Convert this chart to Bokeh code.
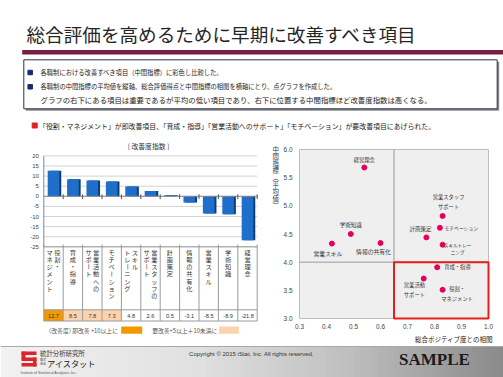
import math
from bokeh.plotting import figure
from bokeh.models import Range1d, ColumnDataSource
from bokeh.core.properties import value, field
from bokeh.embed import file_html
from bokeh.resources import INLINE

JP = value("Noto Sans CJK JP")
LAT = value("Liberation Sans")

# ---------------- data ----------------
page_title = "総合評価を高めるために早期に改善すべき項目"
notes = ["各職制における改善すべき項目（中間指標）に彩色し比較した。",
         "各職制の中間指標の平均値を縦軸、総合評価得点と中間指標の相関を横軸にとり、点グラフを作成した。",
         "グラフの右下にある項目は重要であるが平均の低い項目であり、右下に位置する中間指標ほど改善度指数は高くなる。"]
summary = "「役割・マネジメント」が即改善項目、「育成・指導」「営業活動へのサポート」「モチベーション」が要改善項目にあげられた。"

categories = ["役割・マネジメント", "育成・指導", "営業活動へのサポート", "モチベーション",
              "スキルトレーニング", "営業スタッフのサポート", "計画策定", "情報の共有化",
              "営業スキル", "学術知識", "経営理念"]
# vertical table labels: "\n" separates vertical columns (right column first)
table_labels = ["役割・\nマネジメント", "育成・指導", "営業活動への\nサポート", "モチベーション",
                "スキル\nトレーニング", "営業スタッフの\nサポート", "計画策定", "情報の共有化",
                "営業スキル", "学術知識", "経営理念"]
improvement_index = [12.7, 8.5, 7.8, 7.3, 4.8, 2.6, 0.5, -3.1, -8.5, -8.9, -21.8]
bar_ticks = [-25, -20, -15, -10, -5, 0, 5, 10, 15, 20]
bar_title = "[ 改善度指数 ]"
urgent_threshold = 10
needed_threshold = 5

point_labels = ["役割・\nマネジメント", "育成・指導", "営業活動\nサポート", "モチベーション",
                "スキルトレー\nニング", "営業スタッフ\nサポート", "計画策定", "情報の共有化",
                "営業スキル", "学術知識", "経営理念"]
correlation = [0.83, 0.81, 0.76, 0.82, 0.83, 0.83, 0.77, 0.60, 0.42, 0.49, 0.54]
mean_score = [3.51, 3.91, 3.71, 4.61, 4.31, 4.82, 4.44, 4.34, 4.33, 4.50, 5.68]
x_ticks = [0.3, 0.4, 0.5, 0.6, 0.7, 0.8, 0.9, 1.0]
y_ticks = [3.0, 3.5, 4.0, 4.5, 5.0, 5.5, 6.0]
x_split = 0.65
y_split = 4.0
focus_x = (0.65, 1.0)
focus_y = (3.0, 4.0)
x_axis_label = "総合ポジティブ度との相関"
y_axis_label = "中間指標（平均値）"

# label placement (style)
lab_dx = [14.5, 7, -9.3, 4.6, 15, 6, -6, -7, -4, 0, 0]
lab_dy = [4.5, 0, 11.7, 0, 4, -14.3, -8.4, 8.5, 9.5, -9, -7.5]
lab_align = ["center", "left", "center", "left", "center", "center", "center", "center", "center", "center", "center"]
lab_fs = ["5.3px", "5.3px", "5.3px", "4.8px", "4.6px", "5.3px", "5.5px", "5.8px", "5.8px", "5.5px", "5.3px"]

# ---------------- one page-sized figure (page pixels) ----------------
W, H = 503, 377
p = figure(width=W, height=H, x_range=Range1d(0, W), y_range=Range1d(H, 0),
           output_backend="svg", toolbar_location=None,
           x_axis_location=None, y_axis_location=None, min_border=0)
p.xgrid.visible = False
p.ygrid.visible = False
p.outline_line_color = None
p.background_fill_color = "white"

# chart scales placed on the page:
#  bar chart: category i centred at 43.3 + 19.4*(i+0.5) px ; value 0 at y=195.8 px, 2.02 px per unit
#  scatter:   x 0.3..1.0 -> 299..488 px ; y 3..6 -> 318..149 px
CAT0, CATW = 43.3, 19.4
VAL0, VALS = 195.8, 2.02
SX0, SXS = 299.0, 270.0
SY0, SYS = 318.0, 169.0 / 3.0
p.extra_x_ranges = {
    "cat": Range1d(-CAT0 / CATW - 0.5, (W - CAT0) / CATW - 0.5),
    "sx": Range1d(x_ticks[0] - SX0 / SXS, x_ticks[0] + (W - SX0) / SXS),
}
p.extra_y_ranges = {
    "val": Range1d((VAL0 - H) / VALS, VAL0 / VALS),
    "sy": Range1d(y_ticks[0] - (H - SY0) / SYS, y_ticks[0] + SY0 / SYS),
}
C = dict(x_range_name="cat", y_range_name="val")
S = dict(x_range_name="sx", y_range_name="sy")

# ---------------- header ----------------
p.text(x=[26], y=[33], text=[page_title], text_font=JP, text_font_size="18.6px",
       text_color="#262626", text_align="left", text_baseline="middle")
p.quad(left=[21.7], right=[503], top=[49.5], bottom=[54], fill_color="#7a1f3d", line_color=None)
p.quad(left=[25.3], right=[498.7], top=[61.3], bottom=[110.3], fill_color="#8a8a8a", line_color=None)
p.quad(left=[23.3], right=[496.7], top=[59.3], bottom=[108.3], fill_color="white",
       line_color="#2e2e4e", line_width=1)
p.scatter(x=[29.7, 29.7], y=[72, 86.3], marker="square", size=4.5, color="#1b2a6b")
p.text(x=[40, 40], y=[72, 86.3], text=notes[:2], text_font=JP, text_font_size="6.3px",
       text_color="#222", text_align="left", text_baseline="middle")
p.text(x=[40], y=[99], text=notes[2:], text_font=JP, text_font_size="7.4px",
       text_color="#222", text_align="left", text_baseline="middle")
p.scatter(x=[34.2], y=[125], marker="square", size=5, color="#e0201e")
p.text(x=[38.5], y=[125], text=[summary], text_font=JP, text_font_size="6.9px",
       text_color="#222", text_align="left", text_baseline="middle")

# ---------------- bar chart + table ----------------
n = len(categories)
idx = list(range(n))
nt = len(bar_ticks)
p.segment(x0=[-0.5] * nt, x1=[n - 0.5] * nt, y0=bar_ticks, y1=bar_ticks,
          line_color="#d2d2d2", line_width=1, **C)
p.text(x=[-0.5] * nt, y=bar_ticks, text=[str(t) for t in bar_ticks], x_offset=-5, **C,
       text_font=LAT, text_font_size="6px", text_color="#444", text_align="right",
       text_baseline="middle")

bar_src = ColumnDataSource(dict(x=idx, xs=[i + 0.1 for i in idx], v=improvement_index))
p.vbar(x="xs", top="v", bottom=0, width=0.6, source=bar_src, fill_color="#0e3c75", line_color=None, **C)
p.vbar(x="x", top="v", bottom=0, width=0.6, source=bar_src, fill_color="#1f6fca", line_color=None, **C)

bounds = [i - 0.5 for i in range(n + 1)]
p.segment(x0=[-0.5], x1=[n - 0.5], y0=[0], y1=[0], line_color="#8a8a8a", line_width=1, **C)
p.segment(x0=bounds[1:], x1=bounds[1:], y0=[1.0] * n, y1=[-1.4] * n, line_color="#555", line_width=1, **C)
p.segment(x0=[-0.5], x1=[-0.5], y0=[max(bar_ticks)], y1=[min(bar_ticks)], line_color="#888", **C)

TT, TM, TB = 246.3, 309.3, 320.5
fills = ["#F39800" if v >= urgent_threshold else ("#FCD3AC" if v >= needed_threshold else "white")
         for v in improvement_index]
p.quad(left=[i - 0.5 for i in idx], right=[i + 0.5 for i in idx], top=[TM] * n, bottom=[TB] * n,
       fill_color=fills, line_color=None, x_range_name="cat")
p.segment(x0=bounds, x1=bounds, y0=[244] * (n + 1), y1=[TB] * (n + 1), x_range_name="cat",
          line_color="#9a9a9a", line_width=1)
p.segment(x0=[-0.5] * 3, x1=[n - 0.5] * 3, y0=[TT, TM, TB], y1=[TT, TM, TB], x_range_name="cat",
          line_color="#9a9a9a", line_width=1)
p.text(x=idx, y=[315] * n, text=[f"{v:.1f}" for v in improvement_index], x_range_name="cat",
       text_font=LAT, text_font_size="5.6px", text_color="#333", text_align="center",
       text_baseline="middle")

cx, cxo, cy, ct, ca = [], [], [], [], []
for i, lab in enumerate(table_labels):
    cols = lab.split("\n")
    m = len(cols)
    for j, col in enumerate(cols):
        dx = ((m - 1) / 2 - j) * 7.6
        for k, ch in enumerate(col):
            cx.append(i)
            cxo.append(dx)
            cy.append(251.8 + 7.2 * k)
            ct.append(ch)
            ca.append(math.pi / 2 if ch == "ー" else 0.0)
tab_src = ColumnDataSource(dict(x=cx, xo=cxo, y=cy, t=ct, a=ca))
p.text(x="x", y="y", text="t", x_offset="xo", angle="a", source=tab_src, x_range_name="cat",
       text_font=JP, text_font_size="6.2px", text_color="#333", text_align="center",
       text_baseline="middle")

p.text(x=[148], y=[145.7], text=[bar_title], text_font=JP, text_font_size="6.8px",
       text_color="#333", text_align="center", text_baseline="middle")
p.text(x=[45, 71.7, 151.7], y=[329.6] * 3,
       text=["（改善度）", f"即改善 +{urgent_threshold}以上に", f"要改善+{needed_threshold}以上＋{urgent_threshold}未満に"],
       text_font=JP, text_font_size="5.8px", text_color="#555", text_align="left",
       text_baseline="middle")
p.quad(left=[120.7, 218.7], right=[141.7, 238.3], top=[326, 326], bottom=[333.3, 333.3],
       fill_color=["#F39800", "#FCD3AC"], line_color=None)

# ---------------- scatter ----------------
p.quad(left=[x_ticks[0]], right=[x_ticks[-1]], bottom=[y_ticks[0]], top=[y_ticks[-1]],
       fill_color="#efefef", line_color="#bdbdbd", line_width=1, **S)
p.segment(x0=[x_split, x_ticks[0]], x1=[x_split, x_ticks[-1]],
          y0=[y_ticks[0], y_split], y1=[y_ticks[-1], y_split], line_color="#9a9a9a", line_width=1, **S)
p.quad(left=[focus_x[0]], right=[focus_x[1]], bottom=[focus_y[0]], top=[focus_y[1]],
       fill_color=None, line_color="#e3211c", line_width=2, **S)

pt_src = ColumnDataSource(dict(x=correlation, y=mean_score, t=point_labels, xo=lab_dx, yo=lab_dy,
                               al=lab_align, fs=lab_fs))
p.scatter(x="x", y="y", source=pt_src, size=5, color="#e6005c", **S)
p.text(x="x", y="y", text="t", x_offset="xo", y_offset="yo", text_align=field("al"),
       text_font_size=field("fs"), source=pt_src, text_font=JP, text_color="#333",
       text_baseline="middle", text_line_height=1.25, **S)

p.text(x=x_ticks, y=[y_ticks[0]] * len(x_ticks), text=[f"{t:.1f}" for t in x_ticks], y_offset=7.5,
       text_font=LAT, text_font_size="6.4px", text_color="#444", text_align="center",
       text_baseline="middle", **S)
p.text(x=[x_ticks[0]] * len(y_ticks), y=y_ticks, text=[f"{t:.1f}" for t in y_ticks], x_offset=-7,
       text_font=LAT, text_font_size="6.4px", text_color="#444", text_align="right",
       text_baseline="middle", **S)

vert = [{"（": "︵", "）": "︶"}.get(c, c) for c in y_axis_label]
p.text(x=[275.3] * len(vert), y=[149 + 7.0 * k for k in range(len(vert))], text=vert,
       text_font=JP, text_font_size="6.4px", text_color="#333", text_align="center",
       text_baseline="middle")
p.text(x=[492.5], y=[338.6], text=[x_axis_label], text_font=JP, text_font_size="6.5px",
       text_color="#222", text_align="right", text_baseline="middle")

# ---------------- footer ----------------
stops = [(0, (242, 242, 242)), (200, (224, 224, 224)), (350, (190, 190, 190)), (503, (138, 138, 138))]


def grad(x):
    for (x0, c0), (x1, c1) in zip(stops[:-1], stops[1:]):
        if x0 <= x <= x1:
            t = (x - x0) / (x1 - x0)
            return "#%02x%02x%02x" % tuple(int(round(a + (b - a) * t)) for a, b in zip(c0, c1))
    return "#8a8a8a"


nstrip = 101
w = W / nstrip
sl = [k * w for k in range(nstrip)]
p.quad(left=sl, right=[s + w + 0.6 for s in sl], top=[346] * nstrip, bottom=[377] * nstrip,
       fill_color=[grad(s + w / 2) for s in sl], line_color=None)
p.segment(x0=[0], x1=[503], y0=[346], y1=[346], line_color="#a8a8a8", line_width=1)

p.quad(left=[21, 21, 21, 32.5, 21], right=[36, 25, 36, 36, 36],
       top=[351, 351, 357, 357, 362.5], bottom=[354.5, 358.5, 360.5, 366, 366],
       fill_color="#d9262b", line_color=None)
p.text(x=[39.5], y=[352.5], text=["統計分析研究所"], text_font=JP, text_font_size="6.4px",
       text_color="#333", text_align="left", text_baseline="middle")
p.text(x=[42.5, 42.5], y=[359.5, 363.5], text=["株式", "会社"], text_font=JP, text_font_size="3px",
       text_color="#333", text_align="center", text_baseline="middle")
p.text(x=[46.5], y=[362.3], text=["アイスタット"], text_font=JP, text_font_size="8.2px",
       text_color="#222", text_align="left", text_baseline="middle")
p.text(x=[20], y=[372], text=["Institute of Statistical Analyses, Inc."], text_font=LAT,
       text_font_size="3.6px", text_color="#555", text_align="left", text_baseline="middle")
p.text(x=[251], y=[353.5], text=["Copyright © 2015 iStat, Inc. All rights reserved."], text_font=LAT,
       text_font_size="6px", text_color="#333", text_align="center", text_baseline="middle")
p.text(x=[434], y=[358.5], text=["SAMPLE"], text_font=value("Liberation Serif"),
       text_font_style="bold", text_font_size="17px", text_color="#1a1a1a",
       text_align="center", text_baseline="middle")

open("out.html", "w").write(file_html(p, INLINE))
